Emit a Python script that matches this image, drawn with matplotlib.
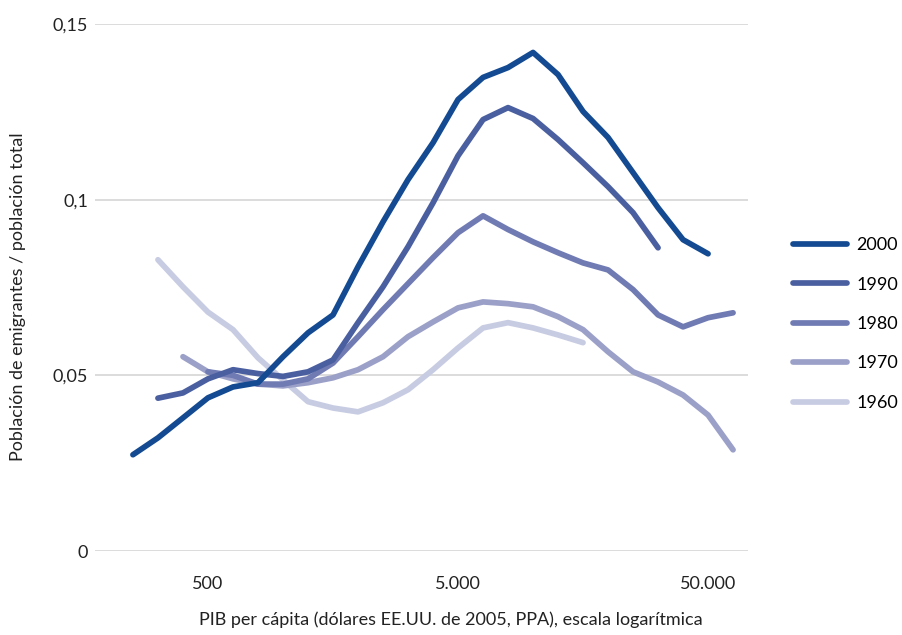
import matplotlib
matplotlib.use('Agg')
import matplotlib.pyplot as plt
from matplotlib.ticker import FixedLocator, FixedFormatter, NullLocator

plt.rcParams['font.family'] = ['Lato', 'DejaVu Sans']

# PIB per cápita (escala log, pasos de 0,1 décadas)
pib = [251, 316, 398, 501, 631, 794, 1000, 1259, 1585, 1995, 2512, 3162, 3981,
       5012, 6310, 7943, 10000, 12589, 15849, 19953, 25119, 31623, 39811, 50119, 63096]

# tasas de emigración por década
y2000 = [0.0274, 0.0322, 0.0379, 0.0436, 0.0467, 0.0479, 0.0553, 0.0621, 0.0672, 0.0809,
         0.0937, 0.1057, 0.1162, 0.1285, 0.1348, 0.1376, 0.1419, 0.1356, 0.1251, 0.1177,
         0.1077, 0.0977, 0.0886, 0.0846]                       # desde pib[0]
y1990 = [0.0435, 0.0450, 0.0490, 0.0516, 0.0505, 0.0497, 0.0510, 0.0544, 0.0650, 0.0752,
         0.0866, 0.0991, 0.1125, 0.1228, 0.1262, 0.1231, 0.1171, 0.1105, 0.1037, 0.0963,
         0.0863]                                               # desde pib[1]
y1980 = [0.0510, 0.0500, 0.0475, 0.0475, 0.0490, 0.0535, 0.0610, 0.0687, 0.0761, 0.0835,
         0.0906, 0.0954, 0.0915, 0.0880, 0.0849, 0.0820, 0.0800, 0.0744, 0.0672, 0.0638,
         0.0664, 0.0678]                                       # desde pib[3]
y1970 = [0.0553, 0.0510, 0.0490, 0.0475, 0.0470, 0.0479, 0.0493, 0.0516, 0.0553, 0.0610,
         0.0652, 0.0692, 0.0709, 0.0704, 0.0695, 0.0667, 0.0630, 0.0567, 0.0510, 0.0481,
         0.0444, 0.0387, 0.0288]                               # desde pib[2]
y1960 = [0.0829, 0.0752, 0.0680, 0.0630, 0.0550, 0.0487, 0.0425, 0.0407, 0.0396, 0.0422,
         0.0459, 0.0516, 0.0578, 0.0635, 0.0650, 0.0635, 0.0615, 0.0593]  # desde pib[1]

series = [('2000', pib[0:], y2000, '#134a91'),
          ('1990', pib[1:], y1990, '#4a5fa0'),
          ('1980', pib[3:], y1980, '#707bb4'),
          ('1970', pib[2:], y1970, '#9ba0c8'),
          ('1960', pib[1:], y1960, '#c8cce3')]

fig = plt.figure(figsize=(9.02, 6.35), dpi=100)
ax = fig.add_axes([95/902, 1-551/635, (748-95)/902, (551-24)/635])

# se dibuja de atrás hacia adelante
for nombre, xs, ys, col in series[::-1]:
    ax.plot(xs[:len(ys)], ys, color=col, lw=4.1, solid_capstyle='round',
            solid_joinstyle='round', label=nombre, clip_on=False)

ax.set_xscale('log')
ax.set_xlim(177, 72400)
ax.set_ylim(0, 0.15)
ax.xaxis.set_major_locator(FixedLocator([500, 5000, 50000]))
ax.xaxis.set_major_formatter(FixedFormatter(['500', '5.000', '50.000']))
ax.xaxis.set_minor_locator(NullLocator())
ax.set_yticks([0, 0.05, 0.1, 0.15])
ax.set_yticklabels(['0', '0,05', '0,1', '0,15'])
ax.grid(axis='y', color='#d9d9d9', lw=1.3)
ax.set_axisbelow(True)
for s in ax.spines.values():
    s.set_visible(False)
ax.tick_params(length=0, labelsize=13, colors='#222222')
ax.tick_params(axis='x', pad=18)
ax.tick_params(axis='y', pad=5)

fig.text(0.5, 1-620/635, 'PIB per cápita (dólares EE.UU. de 2005, PPA), escala logarítmica',
         ha='center', va='center', fontsize=13, color='#222222')
fig.text(18/902, 1-297/635, 'Población de emigrantes / población total',
         rotation=90, ha='center', va='center', fontsize=13, color='#222222')

h, l = ax.get_legend_handles_labels()
leg = fig.legend(h[::-1], l[::-1], loc='center left', bbox_to_anchor=(793/902, 1-324/635),
                 frameon=False, fontsize=13, handlelength=3.0, labelspacing=1.3,
                 handletextpad=0.5, borderpad=0, borderaxespad=0)
for ln in leg.get_lines():
    ln.set_linewidth(4.1)

fig.savefig('out.png', dpi=100)
